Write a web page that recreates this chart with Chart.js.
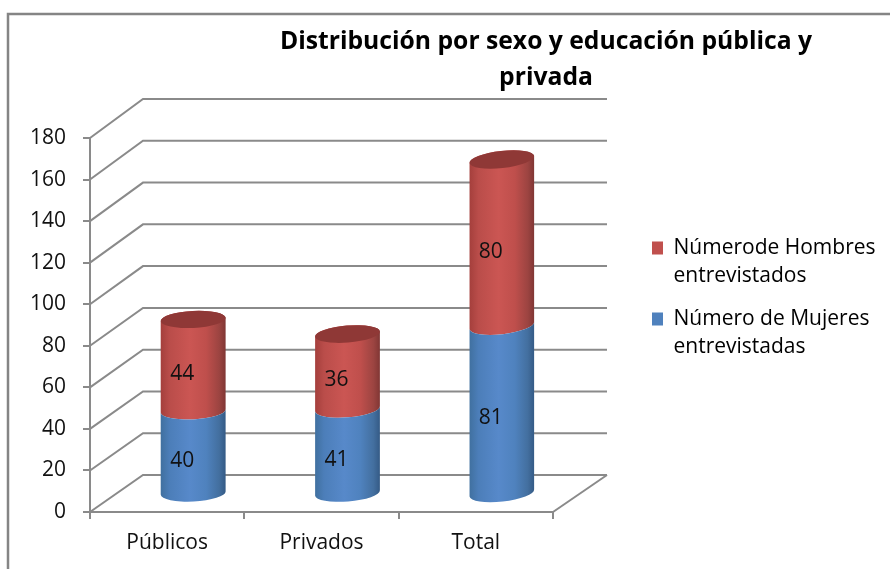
<!DOCTYPE html>
<html lang="es">
<head>
<meta charset="utf-8">
<title>Distribución por sexo y educación pública y privada</title>
<style>html,body{margin:0;padding:0;background:#fff}canvas{display:block}</style>
<script src="https://cdn.jsdelivr.net/npm/chart.js@4/dist/chart.umd.min.js"></script>
</head>
<body>
<canvas id="c" width="890" height="569"></canvas>
<script>
const categories = ["Públicos", "Privados", "Total"];
const mujeres = [40, 41, 81];
const hombres = [44, 36, 80];
const yTicks = [0, 20, 40, 60, 80, 100, 120, 140, 160, 180];
const titleLines = ["Distribución por sexo y educación pública y", "privada"];
const mujeresLabel = ["Número de Mujeres", "entrevistadas"];
const hombresLabel = ["Númerode Hombres", "entrevistados"];

const FONT = "'Open Sans', sans-serif";
const GREY = "#8a8a8a";
const depth = { x: 53, y: 37, midX: 26, midY: 18, ry: 8.5 };
const ramps = {
  blue: ["#40709f", "#4c7eb9", "#5789ca", "#4f82be", "#436f9f", "#345a85"],
  red:  ["#a43f3c", "#ba4d4a", "#cb5653", "#bf4f4c", "#9c4441", "#803634"]
};
const rampStops = [0, 0.14, 0.45, 0.7, 0.9, 1];

// Stacked bars are positioned by the library; each element paints itself as a cylinder.
Chart.elements.BarElement.prototype.draw = function (ctx) {
  const cx = this.x + depth.midX, rx = this.width / 2;
  const top = this.y - depth.midY, bot = this.base - depth.midY;
  const tilt = -(0.05 + (cx - 193) * 0.0002);
  const g = ctx.createLinearGradient(cx - rx, 0, cx + rx, 0);
  ramps[this.ramp].forEach((c, i) => g.addColorStop(rampStops[i], c));
  ctx.save();
  ctx.fillStyle = g;
  ctx.beginPath();
  if (this.cap) ctx.ellipse(cx, top, rx, depth.ry, tilt, Math.PI, 2 * Math.PI, false);
  else ctx.ellipse(cx, top, rx, depth.ry, tilt, Math.PI, 0, true);
  ctx.ellipse(cx, bot, rx, depth.ry, tilt, 0, Math.PI, false);
  ctx.closePath();
  ctx.fill();
  if (this.cap) {
    ctx.fillStyle = "#8f3836";
    ctx.beginPath();
    ctx.ellipse(cx, top, rx, depth.ry, tilt, 0, 2 * Math.PI);
    ctx.fill();
  }
  ctx.restore();
};

const scene = {
  id: "scene",
  beforeDraw(chart) {
    const c = chart.ctx;
    c.save();
    c.fillStyle = "#fff";
    c.fillRect(0, 0, chart.width, chart.height);
    c.strokeStyle = "#858585";
    c.lineWidth = 2.5;
    c.beginPath();
    c.moveTo(8, chart.height);
    c.lineTo(8, 14);
    c.lineTo(chart.width, 14);
    c.stroke();
    c.restore();
  },
  afterLayout(chart) {
    const t = chart.titleBlock;
    t.left = 246; t.right = 846; t.top = 24; t.bottom = 96;
    const l = chart.legend;
    l.left = 637; l.right = 888; l.top = 222.5; l.bottom = 560;
  },
  beforeDatasetsDraw(chart) {
    const c = chart.ctx, y = chart.scales.y, a = chart.chartArea;
    chart.data.datasets.forEach((ds, i) => {
      chart.getDatasetMeta(i).data.forEach(el => { el.ramp = ds.ramp; el.cap = ds.cap; });
    });
    const y0 = y.getPixelForValue(0);
    const backY = v => {
      const p = y.getPixelForValue(v);
      return y0 - depth.y - (y0 - p) * 1.0053;
    };
    c.save();
    c.strokeStyle = GREY;
    c.lineWidth = 2;
    yTicks.forEach(v => {
      c.beginPath();
      c.moveTo(a.left, y.getPixelForValue(v));
      c.lineTo(a.left + depth.x, backY(v));
      c.lineTo(a.right + depth.x + 1, backY(v));
      c.stroke();
    });
    c.beginPath();
    c.moveTo(a.right, y0);
    c.lineTo(a.right + depth.x + 1, backY(0));
    c.stroke();
    c.restore();
  },
  afterDatasetsDraw(chart) {
    const c = chart.ctx;
    c.save();
    c.font = "21px " + FONT;
    c.fillStyle = "#111";
    c.textAlign = "center";
    c.textBaseline = "middle";
    chart.data.datasets.forEach((ds, i) => {
      chart.getDatasetMeta(i).data.forEach((el, j) => {
        c.fillText(String(ds.data[j]), el.x + depth.midX - 11, (el.y + el.base) / 2 - depth.midY + 9);
      });
    });
    c.restore();
  }
};

new Chart(document.getElementById("c"), {
  type: "bar",
  data: {
    labels: categories,
    datasets: [
      { label: mujeresLabel.join(" "), data: mujeres, backgroundColor: "#4f81bd", ramp: "blue", cap: false },
      { label: hombresLabel.join(" "), data: hombres, backgroundColor: "#c0504d", ramp: "red", cap: true }
    ]
  },
  options: {
    responsive: false,
    animation: false,
    devicePixelRatio: 1,
    events: [],
    layout: { padding: { left: 0, right: 337, top: 66, bottom: 0 } },
    datasets: { bar: { barPercentage: 0.421, categoryPercentage: 1 } },
    plugins: {
      tooltip: { enabled: false },
      title: {
        display: true,
        text: titleLines,
        color: "#000",
        padding: 0,
        font: { family: FONT, size: 24.7, weight: "bold", lineHeight: 36 / 24.7 }
      },
      legend: {
        display: true,
        position: "chartArea",
        align: "start",
        labels: {
          boxWidth: 11,
          boxHeight: 13,
          padding: 15,
          color: "#111",
          font: { family: FONT, size: 21, lineHeight: 28 / 21 },
          generateLabels(chart) {
            const ds = chart.data.datasets;
            return [
              { text: hombresLabel, fillStyle: ds[1].backgroundColor, strokeStyle: "transparent", lineWidth: 0, datasetIndex: 1 },
              { text: mujeresLabel, fillStyle: ds[0].backgroundColor, strokeStyle: "transparent", lineWidth: 0, datasetIndex: 0 }
            ];
          }
        }
      }
    },
    scales: {
      x: {
        stacked: true,
        afterFit(s) { s.height = 57; },
        grid: { offset: true, drawOnChartArea: false, tickLength: 7, color: GREY, lineWidth: 2 },
        border: { color: GREY, width: 2 },
        ticks: { color: "#111", padding: 11, font: { family: FONT, size: 21 }, maxRotation: 0 }
      },
      y: {
        stacked: true,
        min: 0,
        max: 180,
        afterFit(s) { s.width = 90; },
        grid: { drawOnChartArea: false, tickLength: 7, color: GREY, lineWidth: 2 },
        border: { color: GREY, width: 2 },
        ticks: {
          color: "#111",
          padding: 17,
          stepSize: 20,
          font: { family: FONT, size: 21 }
        }
      }
    }
  },
  plugins: [scene]
});
</script>
</body>
</html>
